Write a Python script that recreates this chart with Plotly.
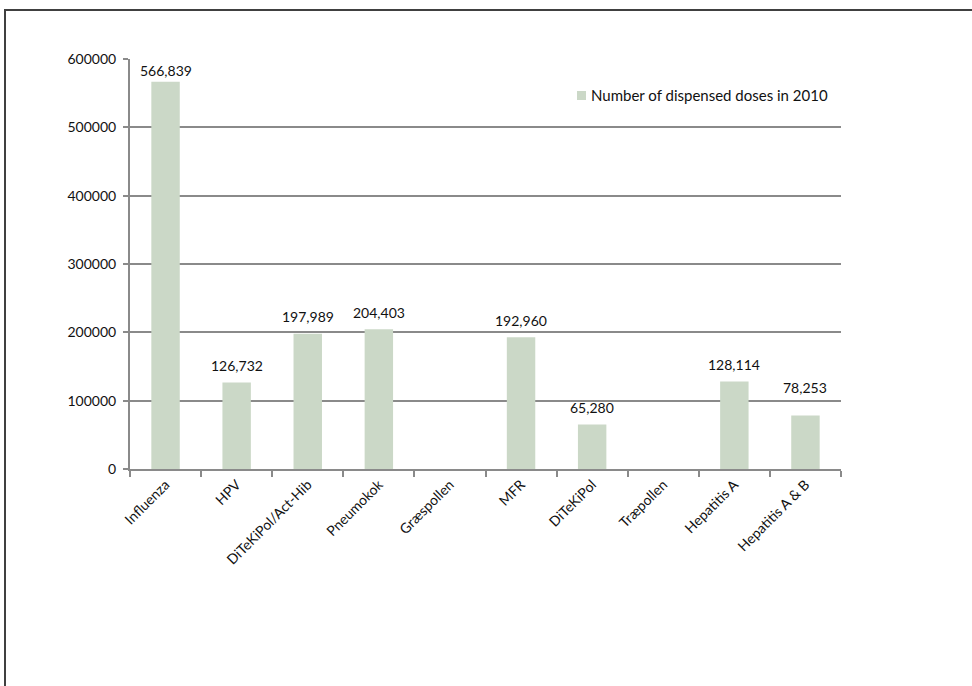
import plotly.graph_objects as go

# Vaccine doses dispensed in 2010
categories = ["Influenza", "HPV", "DiTeKiPol/Act-Hib", "Pneumokok", "Græspollen",
              "MFR", "DiTeKiPol", "Træpollen", "Hepatitis A", "Hepatitis A & B"]
doses = [566839, 126732, 197989, 204403, None, 192960, 65280, None, 128114, 78253]
series_name = "Number of dispensed doses in 2010"
y_ticks = [0, 100000, 200000, 300000, 400000, 500000, 600000]

BAR = "#cbd8c7"
GRID = "#8a8a8a"
INK = "#111111"
FONT = "Lato, Open Sans, sans-serif"
FS = 14

# Vertical gap (px) between a bar top and its value label
LABEL_GAP = 17
LABEL_GAP_OVERRIDE = {"Influenza": 11, "Hepatitis A & B": 28}

fig = go.Figure()
fig.add_trace(go.Bar(
    x=categories, y=doses, name=series_name,
    marker=dict(color=BAR, line=dict(width=0)),
    showlegend=False, hoverinfo="x+y",
))

# Value labels above each bar
for cat, val in zip(categories, doses):
    if val is None:
        continue
    fig.add_annotation(
        x=cat, y=val, xref="x", yref="y", showarrow=False,
        text=f"{val:,}", yanchor="middle",
        yshift=LABEL_GAP_OVERRIDE.get(cat, LABEL_GAP),
        font=dict(size=FS, family=FONT, color=INK),
    )

L, R, T, B = 130, 131, 59, 217
W, H = 972, 686
pw, ph = W - L - R, H - T - B


def px_x(x):
    return (x - L) / pw


def px_y(y):
    return (H - B - y) / ph


fig.update_layout(
    width=W, height=H,
    margin=dict(l=L, r=R, t=T, b=B, pad=0),
    paper_bgcolor="white", plot_bgcolor="white",
    font=dict(family=FONT, size=FS, color=INK),
    bargap=0.6,
    showlegend=False,
    xaxis=dict(
        type="category", tickangle=-45, showgrid=False,
        showline=True, linecolor=GRID, linewidth=2,
        ticks="outside", tickson="boundaries", ticklen=6,
        tickcolor=GRID, tickwidth=1.5,
        tickfont=dict(size=FS, family=FONT, color=INK),
    ),
    yaxis=dict(
        range=[0, 600000], tickvals=y_ticks, tickformat="d",
        showgrid=True, gridcolor=GRID, gridwidth=1.5,
        showline=True, linecolor=GRID, linewidth=2,
        ticks="outside", ticklen=5, tickcolor=GRID, tickwidth=1.5,
        zeroline=False, ticklabelstandoff=4,
        tickfont=dict(size=FS, family=FONT, color=INK),
    ),
)

# Legend key: small swatch with the series name
fig.add_shape(
    type="rect", xref="paper", yref="paper",
    x0=px_x(577), x1=px_x(586), y0=px_y(100), y1=px_y(91),
    line=dict(width=0), fillcolor=BAR,
)
fig.add_annotation(
    xref="paper", yref="paper", x=px_x(589), y=px_y(95),
    xanchor="left", yanchor="middle", showarrow=False,
    text=series_name, font=dict(size=FS + 1, family=FONT, color=INK),
)

# Outer chart frame (left and top edges visible, runs off the page right and bottom)
fig.add_shape(
    type="rect", xref="paper", yref="paper", layer="below",
    x0=px_x(5), x1=px_x(W + 20),
    y0=px_y(H + 20), y1=px_y(10),
    line=dict(color="#404040", width=2), fillcolor="rgba(0,0,0,0)",
)

fig.write_html("out.html")
